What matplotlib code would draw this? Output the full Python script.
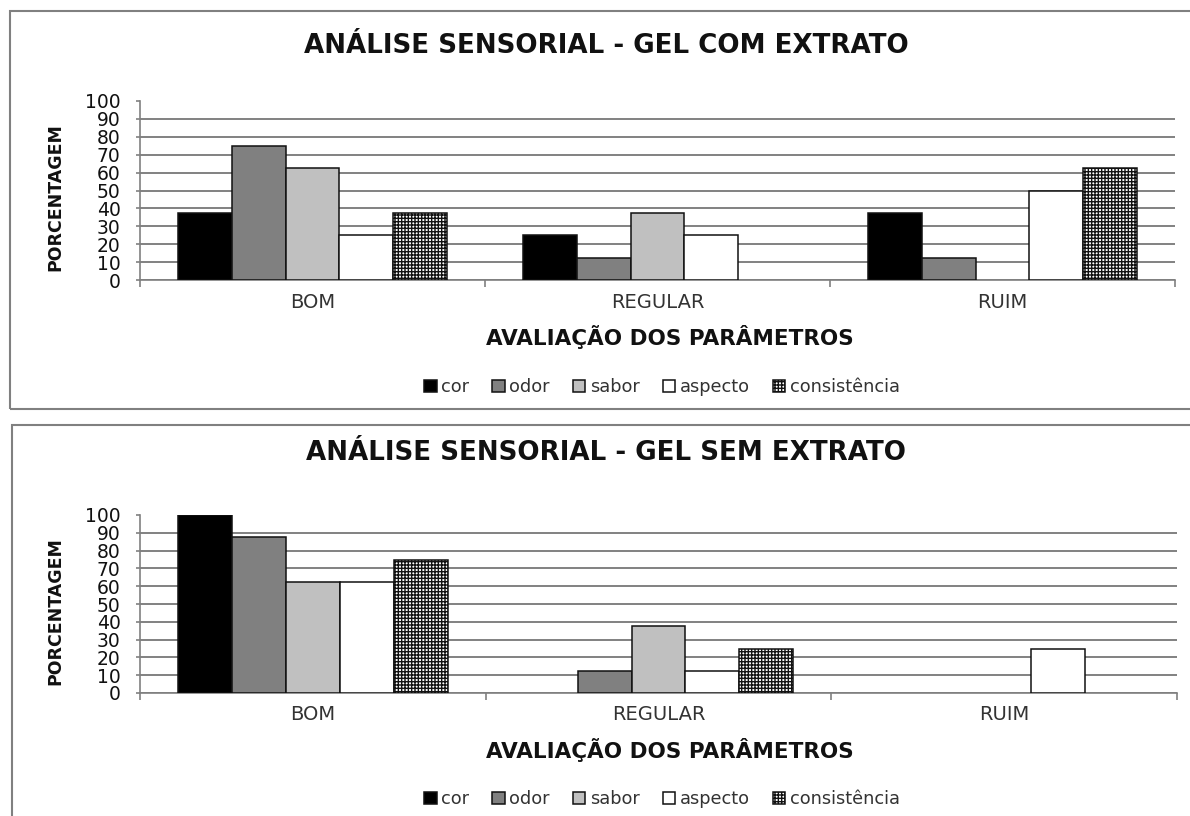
import matplotlib
matplotlib.use("Agg")
import matplotlib.pyplot as plt
from matplotlib.patches import Rectangle
import numpy as np

plt.rcParams['font.family'] = ['DejaVu Sans']
plt.rcParams['hatch.color'] = '#3a3a3a'
plt.rcParams['hatch.linewidth'] = 1.0

categorias = ['BOM', 'REGULAR', 'RUIM']
parametros = ['cor', 'odor', 'sabor', 'aspecto', 'consistência']

# porcentagem por parametro (cor, odor, sabor, aspecto, consistencia) em cada avaliacao
com_extrato = {
    'cor':          [37.5, 25.0, 37.5],
    'odor':         [75.0, 12.5, 12.5],
    'sabor':        [62.5, 37.5, 0.0],
    'aspecto':      [25.0, 25.0, 50.0],
    'consistência': [37.5, 0.0, 62.5],
}
sem_extrato = {
    'cor':          [100.0, 0.0, 0.0],
    'odor':         [87.5, 12.5, 0.0],
    'sabor':        [62.5, 37.5, 0.0],
    'aspecto':      [62.5, 12.5, 25.0],
    'consistência': [75.0, 25.0, 0.0],
}

cores = {'cor': 'black', 'odor': '#808080', 'sabor': '#c0c0c0',
         'aspecto': 'white', 'consistência': 'white'}
hachuras = {'consistência': '+++++'}

W, H = 1190, 816
fig = plt.figure(figsize=(W / 100, H / 100), dpi=100)


def fx(x):
    return x / W


def fy(y):
    return 1 - y / H


def grafico(dados, titulo, top, bottom, right, ytit, ylab, yleg):
    ax = fig.add_axes([fx(140), fy(bottom), fx(right - 140), fy(top) - fy(bottom)])
    x = np.arange(len(categorias))
    w = 0.156
    for i, p in enumerate(parametros):
        h = np.array(dados[p])
        # barras com 0% nao aparecem
        h = np.where(h > 0, h, np.nan)
        ax.bar(x + (i - 2) * w, h, width=w, color=cores[p],
               edgecolor='#111111', linewidth=1.1, hatch=hachuras.get(p),
               label=p, zorder=3)
    ax.set_xlim(-0.5, 2.5)
    ax.set_ylim(0, 100)
    ax.set_yticks(range(0, 101, 10))
    ax.tick_params(axis='y', labelsize=13.5, length=3, color='#808080',
                   width=1.2, pad=11, labelcolor='#111111')
    ax.yaxis.grid(True, color='#777777', linewidth=1.3)
    ax.yaxis.get_gridlines()[-1].set_visible(False)
    ax.set_axisbelow(True)

    # marcas nos limites das categorias, rotulos no centro
    ax.set_xticks([-0.5, 0.5, 1.5, 2.5])
    ax.set_xticklabels([])
    ax.tick_params(axis='x', which='major', length=5, color='#808080', width=1.2)
    ax.set_xticks(x, minor=True)
    ax.set_xticklabels(categorias, minor=True)
    ax.tick_params(axis='x', which='minor', length=0, labelsize=14,
                   labelcolor='#333333', pad=9)

    for s in ['top', 'right']:
        ax.spines[s].set_visible(False)
    for s in ['left', 'bottom']:
        ax.spines[s].set_color('#808080')
        ax.spines[s].set_linewidth(1.2)

    fig.text(fx(606), fy(ytit), titulo, ha='center', va='center',
             fontsize=18.8, fontweight='bold', color='#111111')
    fig.text(fx(55), fy((top + bottom) / 2 + 7), 'PORCENTAGEM', rotation=90,
             ha='center', va='center', fontsize=12.5, fontweight='bold',
             color='#111111')
    fig.text(fx(670), fy(ylab), 'AVALIAÇÃO DOS PARÂMETROS', ha='center',
             va='center', fontsize=15.5, fontweight='bold', color='#111111')
    fig.legend(*ax.get_legend_handles_labels(), loc='center',
               bbox_to_anchor=(fx(662), fy(yleg)), ncol=5, frameon=False,
               fontsize=12.8, handlelength=0.7, handleheight=0.7,
               handletextpad=0.25, columnspacing=1.3, labelcolor='#333333')
    return ax


grafico(com_extrato, 'ANÁLISE SENSORIAL - GEL COM EXTRATO',
        101, 280, 1175, 46, 337, 387)
grafico(sem_extrato, 'ANÁLISE SENSORIAL - GEL SEM EXTRATO',
        515, 693, 1177, 453, 750, 799)

# molduras dos dois graficos
fig.patches.append(Rectangle((fx(10), fy(409)), 1.2, fy(11) - fy(409),
                             transform=fig.transFigure, fill=False,
                             edgecolor='#808080', linewidth=1.5))
fig.patches.append(Rectangle((fx(12), -0.2), 1.2, fy(425) + 0.2,
                             transform=fig.transFigure, fill=False,
                             edgecolor='#808080', linewidth=1.5))

fig.savefig('out.png', dpi=100)
